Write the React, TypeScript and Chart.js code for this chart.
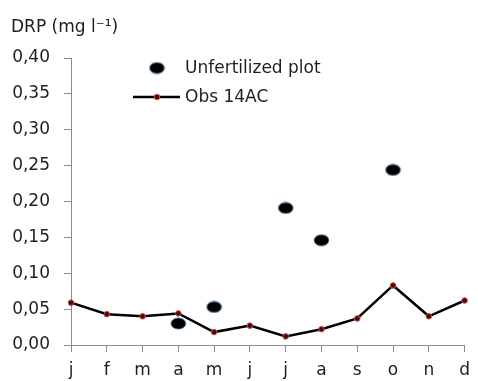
import React, { useEffect, useRef } from "react";
import { Chart, registerables } from "chart.js";

Chart.register(...registerables);

const months = ["j", "f", "m", "a", "m", "j", "j", "a", "s", "o", "n", "d"];
const unfertilized: (number | null)[] = [null, null, null, 0.030, 0.053, null, 0.191, 0.146, null, 0.244, null, null];
const obs14AC = [0.059, 0.043, 0.040, 0.044, 0.018, 0.027, 0.012, 0.022, 0.037, 0.083, 0.040, 0.062];
const yTicks = [0, 0.05, 0.1, 0.15, 0.2, 0.25, 0.3, 0.35, 0.4];
const seriesLabels = ["Unfertilized plot", "Obs 14AC"];
const yTitle = "DRP (mg l⁻¹)";

const FONT = "'DejaVu Sans', sans-serif";
const TEXT = "#1e1e1e";

function makeEllipse(): HTMLCanvasElement {
  const c = document.createElement("canvas");
  c.width = 17;
  c.height = 13;
  const ctx = c.getContext("2d")!;
  ctx.beginPath();
  ctx.ellipse(8.5, 6.5, 7.4, 5.6, 0, 0, Math.PI * 2);
  ctx.fillStyle = "#000000";
  ctx.fill();
  ctx.lineWidth = 0.8;
  ctx.strokeStyle = "#4a78b0";
  ctx.stroke();
  return c;
}

export default function App() {
  const ref = useRef<HTMLCanvasElement | null>(null);

  useEffect(() => {
    if (!ref.current) return;
    const ellipse = makeEllipse();

    const overlay = {
      id: "overlay",
      afterDraw(chart: any) {
        const ctx = chart.ctx as CanvasRenderingContext2D;
        ctx.save();
        ctx.fillStyle = TEXT;
        ctx.font = `17px ${FONT}`;
        ctx.textBaseline = "alphabetic";
        ctx.textAlign = "left";
        ctx.fillText(yTitle, 11, 32);

        const ds = chart.data.datasets;
        ctx.drawImage(ellipse, 157 - 8.5, 68 - 6.5);
        ctx.textBaseline = "middle";
        ctx.fillStyle = TEXT;
        ctx.fillText(ds[0].label, 185, 69);
        ctx.beginPath();
        ctx.moveTo(133, 97);
        ctx.lineTo(180, 97);
        ctx.strokeStyle = "#000";
        ctx.lineWidth = 2.5;
        ctx.stroke();
        ctx.beginPath();
        ctx.arc(157, 97, 2.8, 0, Math.PI * 2);
        ctx.fillStyle = "#4a0a0a";
        ctx.fill();
        ctx.lineWidth = 1;
        ctx.strokeStyle = "#d05050";
        ctx.stroke();
        ctx.fillStyle = TEXT;
        ctx.fillText(ds[1].label, 185, 98);
        ctx.restore();
      },
    };

    const chart = new Chart(ref.current, {
      type: "line",
      data: {
        labels: months,
        datasets: [
          {
            label: seriesLabels[0],
            data: unfertilized,
            showLine: false,
            pointStyle: ellipse as any,
            pointRadius: 7,
            order: 2,
          },
          {
            label: seriesLabels[1],
            data: obs14AC,
            borderColor: "#000000",
            borderWidth: 2.5,
            pointRadius: 2.8,
            pointBackgroundColor: "#4a0a0a",
            pointBorderColor: "#d05050",
            pointBorderWidth: 1,
            tension: 0,
            order: 1,
          },
        ],
      },
      options: {
        animation: false,
        responsive: false,
        maintainAspectRatio: false,
        layout: { padding: { top: 58, right: 7, left: 0, bottom: 0 } },
        plugins: { legend: { display: false }, tooltip: { enabled: false }, title: { display: false } },
        scales: {
          x: {
            offset: false,
            border: { display: true, color: "#8c8c8c", width: 1 },
            grid: { display: true, drawOnChartArea: false, drawTicks: true, tickLength: 7, color: "#8c8c8c" },
            ticks: { color: TEXT, font: { family: FONT, size: 17 }, padding: 8, maxRotation: 0, autoSkip: false },
            afterFit: (s: any) => {
              s.height = 36;
            },
          },
          y: {
            min: 0,
            max: 0.4,
            afterBuildTicks: (s: any) => {
              s.ticks = yTicks.map((v) => ({ value: v }));
            },
            border: { display: true, color: "#8c8c8c", width: 1 },
            grid: { display: true, drawOnChartArea: false, drawTicks: true, tickLength: 7, color: "#8c8c8c" },
            ticks: {
              color: TEXT,
              font: { family: FONT, size: 17 },
              padding: 14,
              callback: (v: any) => Number(v).toFixed(2).replace(".", ","),
            },
            afterFit: (s: any) => {
              s.width = 71;
            },
          },
        },
      },
      plugins: [overlay],
    });
    return () => chart.destroy();
  }, []);

  return (
    <div style={{ position: "fixed", left: 0, top: 0, width: 478, height: 381, background: "#fff" }}>
      <canvas ref={ref} width={478} height={381} style={{ width: 478, height: 381 }} />
    </div>
  );
}
